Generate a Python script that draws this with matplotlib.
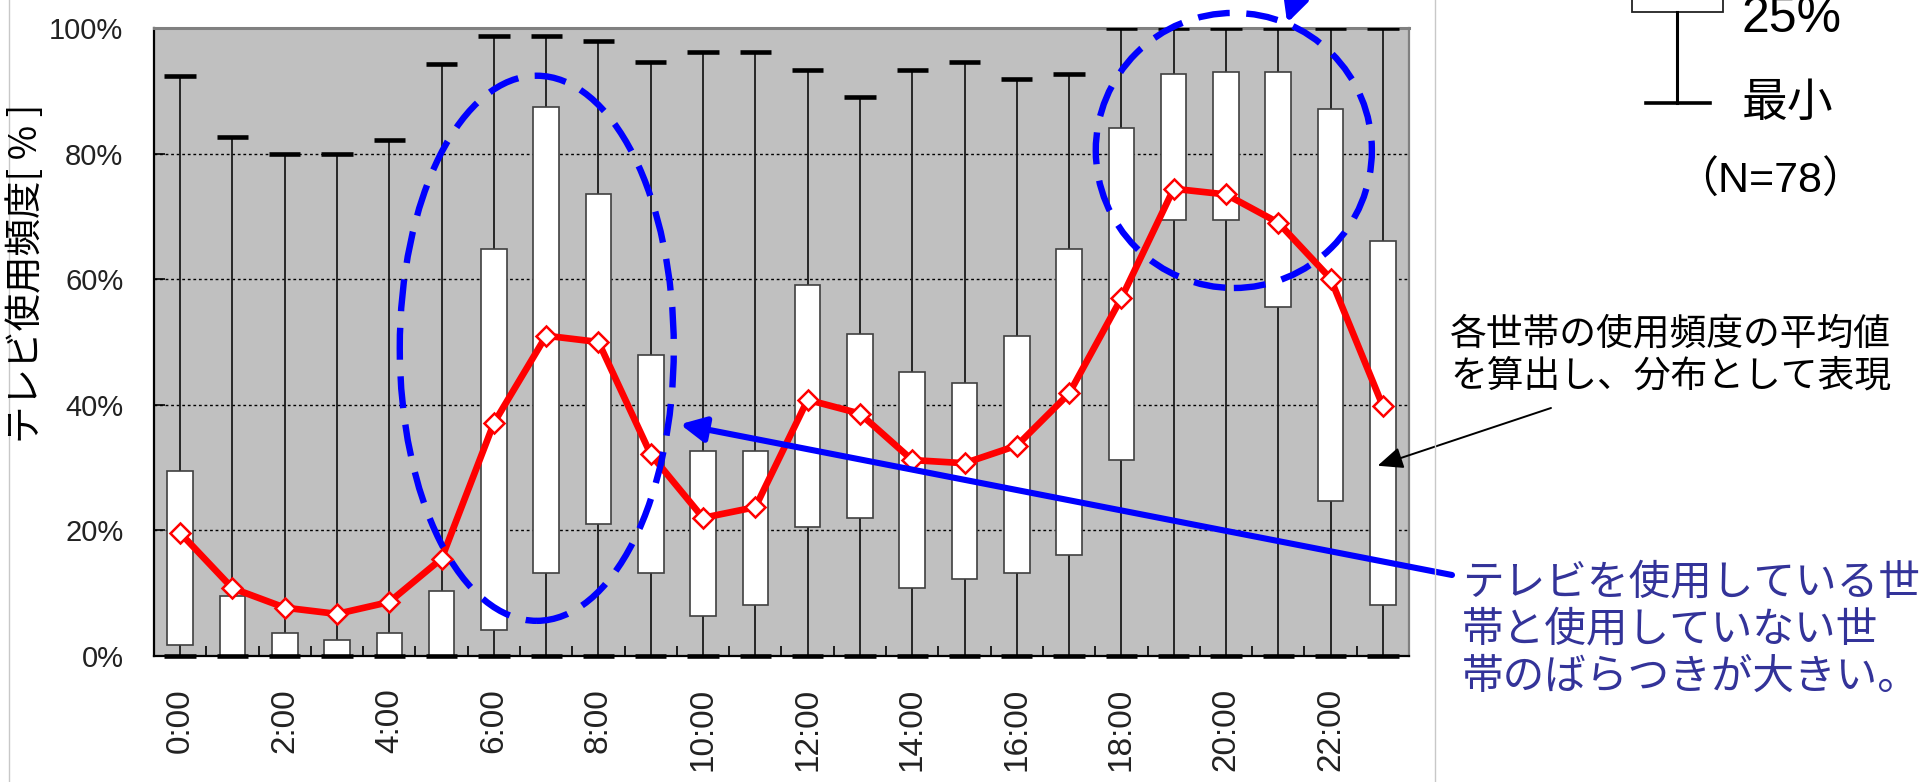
import matplotlib
matplotlib.use("Agg")
import matplotlib.pyplot as plt
from matplotlib.patches import Ellipse
import numpy as np

# Hourly TV usage frequency per household (%), N=78
hours = list(range(24))
tick_hours = list(range(0, 24, 2))
tick_labels = [f"{h}:00" for h in tick_hours]

usage_max = [92.3, 82.6, 80.0, 80.0, 82.1, 94.2, 98.8, 98.8, 97.9, 94.6, 96.1, 96.1,
             93.3, 89.0, 93.3, 94.6, 91.9, 92.7, 100, 100, 100, 100, 100, 100]
usage_q3 = [29.4, 9.5, 3.6, 2.6, 3.6, 10.3, 64.8, 87.5, 73.5, 48.0, 32.6, 32.6,
            59.0, 51.2, 45.3, 43.4, 50.9, 64.8, 84.1, 92.6, 93.0, 93.0, 87.1, 66.1]
usage_q1 = [1.8, 0, 0, 0, 0, 0, 4.1, 13.2, 21.0, 13.2, 6.3, 8.2,
            20.6, 22.0, 10.9, 12.2, 13.2, 16.1, 31.2, 69.4, 69.4, 55.5, 24.7, 8.2]
usage_min = [0] * 24
usage_mean = [19.6, 10.8, 7.7, 6.7, 8.6, 15.5, 37.1, 51.0, 50.0, 32.1, 22.0, 23.7,
              40.8, 38.6, 31.2, 30.7, 33.5, 41.8, 57.0, 74.4, 73.5, 69.0, 60.1, 39.8]

W, H = 1929, 782
plt.rcParams['font.family'] = ['Noto Sans CJK JP', 'DejaVu Sans']
LATIN = ['Liberation Sans', 'Noto Sans CJK JP']


def fig_xy(x, y):
    """Pixel position (from top-left) to figure fraction."""
    return x / W, 1 - y / H


fig = plt.figure(figsize=(W / 100, H / 100), dpi=100)
ax_l, ax_r, ax_t, ax_b = 154, 1409, 28, 656
ax = fig.add_axes([ax_l / W, 1 - ax_b / H, (ax_r - ax_l) / W, (ax_b - ax_t) / H])
ax.set_facecolor('#c0c0c0')
ax.set_xlim(-0.5, 23.5)
ax.set_ylim(0, 100)

# grid
ax.set_axisbelow(True)
ax.yaxis.grid(True, color='black', linestyle=(0, (2, 2)), linewidth=1.0)

x = np.array(hours)
q1 = np.array(usage_q1)
q3 = np.array(usage_q3)

# whiskers
ax.vlines(x, q3, usage_max, color='#1a1a1a', linewidth=1.3, zorder=2)
ax.vlines(x, usage_min, q1, color='#1a1a1a', linewidth=1.3, zorder=2)
# boxes
ax.bar(x, q3 - q1, bottom=q1, width=0.49, color='white', edgecolor='#404040',
       linewidth=1.2, zorder=3)
# caps
ax.hlines(usage_max, x - 0.3, x + 0.3, color='black', linewidth=3.3, zorder=4)
ax.hlines(usage_min, x - 0.3, x + 0.3, color='black', linewidth=3.3, zorder=4,
          clip_on=False)

# mean line
ax.plot(x, usage_mean, color='red', linewidth=4.8, marker='D', markersize=10,
        markerfacecolor='white', markeredgecolor='red', markeredgewidth=1.8, zorder=5)

# axes styling
for side in ('left', 'bottom'):
    ax.spines[side].set_color('black')
    ax.spines[side].set_linewidth(1.6)
ax.spines['top'].set_color('#808080')
ax.spines['top'].set_linewidth(2.2)
ax.spines['right'].set_color('#808080')
ax.spines['right'].set_linewidth(1.6)

ax.set_yticks([0, 20, 40, 60, 80, 100])
ax.set_yticklabels([f"{v}%" for v in [0, 20, 40, 60, 80, 100]],
                   fontfamily=LATIN, fontsize=21, color='#222222')
ax.tick_params(axis='y', direction='in', length=8, width=1.2, pad=22)

ax.set_xticks(tick_hours)
ax.set_xticklabels(tick_labels, rotation=90, fontfamily=LATIN, fontsize=24,
                   color='#222222')
ax.set_xticks(np.arange(-0.5, 24, 1), minor=True)
ax.tick_params(axis='x', which='major', length=0, pad=23)
ax.tick_params(axis='x', which='minor', direction='in', length=7, width=1.2)

# y axis title
fig.text(*fig_xy(27, 273), "テレビ使用頻度[ % ]", rotation=90, ha='center',
         va='center', fontsize=27)

# chart area border
for bx in (9, 1435):
    fig.add_artist(plt.Line2D([bx / W, bx / W], [0, 1], transform=fig.transFigure,
                              color='#c8c8c8', linewidth=1.0))

# dashed highlight ellipses
for (cx, cy, ew, eh) in [(6.82, 49.0, 5.24, 86.8), (20.15, 80.5, 5.28, 43.8)]:
    ax.add_patch(Ellipse((cx, cy), ew, eh, fill=False, edgecolor='blue',
                         linewidth=4.6, linestyle=(0, (5, 2.6)), zorder=8,
                         clip_on=False))

# annotation arrows
blue_head = '-|>,head_length=0.6,head_width=0.3'
ax.annotate("", xy=(9.56, 36.9), xycoords='data',
            xytext=fig_xy(1452, 575), textcoords='figure fraction',
            arrowprops=dict(arrowstyle=blue_head, color='blue', lw=4.4,
                            mutation_scale=25, shrinkA=0, shrinkB=0),
            zorder=9, annotation_clip=False)
ax.annotate("", xy=(21.17, 100.8), xycoords='data',
            xytext=fig_xy(1299, -12), textcoords='figure fraction',
            arrowprops=dict(arrowstyle=blue_head, color='blue', lw=4.4,
                            mutation_scale=25, shrinkA=0, shrinkB=0),
            zorder=9, annotation_clip=False)
ax.annotate("", xy=(22.9, 30.3), xycoords='data',
            xytext=fig_xy(1551, 408), textcoords='figure fraction',
            arrowprops=dict(arrowstyle='-|>,head_length=0.7,head_width=0.3',
                            color='black', lw=1.4, mutation_scale=22,
                            shrinkA=0, shrinkB=0), zorder=9, annotation_clip=False)

# legend sketch (box bottom, whisker, minimum cap)
leg_box_l, leg_box_r, leg_box_b = 1632, 1723, 12
fig.add_artist(plt.Rectangle(fig_xy(leg_box_l, leg_box_b),
                             (leg_box_r - leg_box_l) / W, 40 / H,
                             transform=fig.transFigure, facecolor='white',
                             edgecolor='#222222', linewidth=1.3))
fig.add_artist(plt.Line2D([1677 / W, 1677 / W], [1 - 12 / H, 1 - 103 / H],
                          transform=fig.transFigure, color='black', linewidth=2.2))
fig.add_artist(plt.Line2D([1646 / W, 1710 / W], [1 - 103 / H, 1 - 103 / H],
                          transform=fig.transFigure, color='black', linewidth=2.6))
fig.text(*fig_xy(1742, 32), "25%", ha='left', va='baseline', fontsize=36,
         fontfamily=LATIN)
fig.text(*fig_xy(1742, 103), "最小", ha='left', va='center', fontsize=33)
fig.text(*fig_xy(1770, 181), "（N=78）", ha='center', va='center', fontsize=31,
         fontfamily=LATIN)

fig.text(*fig_xy(1450, 355), "各世帯の使用頻度の平均値\nを算出し、分布として表現",
         ha='left', va='center', fontsize=26.5, linespacing=1.1)
fig.text(*fig_xy(1462, 630),
         "テレビを使用している世\n帯と使用していない世\n帯のばらつきが大きい。",
         ha='left', va='center', fontsize=30, color='#333399', linespacing=1.2)

fig.savefig("out.png", dpi=100)
